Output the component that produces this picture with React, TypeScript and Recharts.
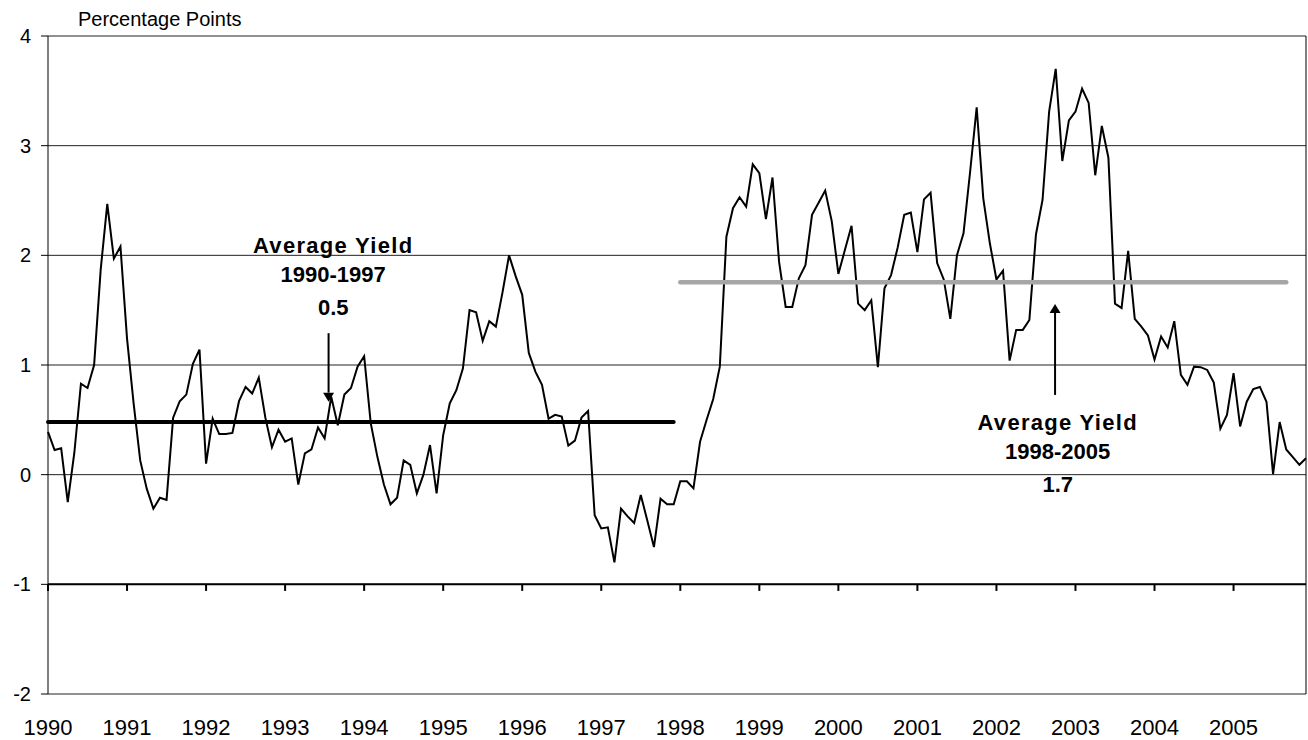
import React from 'react';
import { LineChart, Line, XAxis, YAxis, CartesianGrid, ReferenceLine, ReferenceDot } from 'recharts';

// Monthly series, Jan 1990 .. Dec 2005 (percentage points)
const yieldValues: number[] = [
  // 1990
  0.39, 0.225, 0.24, -0.25, 0.2, 0.83, 0.79, 1.0, 1.87, 2.47, 1.97, 2.08,
  // 1991
  1.24, 0.65, 0.13, -0.13, -0.31, -0.21, -0.23, 0.52, 0.67, 0.73, 1.01, 1.14,
  // 1992
  0.1, 0.51, 0.37, 0.37, 0.38, 0.67, 0.8, 0.74, 0.885, 0.52, 0.25, 0.41,
  // 1993
  0.3, 0.33, -0.09, 0.195, 0.23, 0.43, 0.33, 0.71, 0.45, 0.73, 0.79, 0.985,
  // 1994
  1.08, 0.47, 0.165, -0.09, -0.27, -0.21, 0.13, 0.09, -0.17, 0.0, 0.27, -0.17,
  // 1995
  0.36, 0.65, 0.77, 0.97, 1.5, 1.48, 1.22, 1.4, 1.35, 1.66, 2.0, 1.81,
  // 1996
  1.64, 1.11, 0.94, 0.82, 0.51, 0.545, 0.53, 0.265, 0.31, 0.52, 0.58, -0.37,
  // 1997
  -0.49, -0.48, -0.8, -0.31, -0.38, -0.44, -0.185, -0.42, -0.66, -0.22, -0.27, -0.27,
  // 1998
  -0.06, -0.06, -0.125, 0.3, 0.5, 0.69, 0.985, 2.17, 2.43, 2.53, 2.445, 2.83,
  // 1999
  2.75, 2.33, 2.71, 1.94, 1.53, 1.53, 1.79, 1.91, 2.37, 2.48, 2.59, 2.31,
  // 2000
  1.83, 2.05, 2.27, 1.56, 1.5, 1.59, 0.98, 1.7, 1.82, 2.07, 2.37, 2.39,
  // 2001
  2.03, 2.51, 2.57, 1.93, 1.78, 1.42, 2.0, 2.2, 2.76, 3.35, 2.52, 2.11,
  // 2002
  1.78, 1.86, 1.04, 1.32, 1.32, 1.41, 2.19, 2.505, 3.31, 3.7, 2.86, 3.23,
  // 2003
  3.31, 3.52, 3.39, 2.73, 3.18, 2.89, 1.56, 1.52, 2.04, 1.42, 1.35, 1.27,
  // 2004
  1.05, 1.26, 1.16, 1.4, 0.91, 0.82, 0.985, 0.98, 0.955, 0.84, 0.42, 0.545,
  // 2005
  0.925, 0.44, 0.665, 0.78, 0.8, 0.665, 0.005, 0.48, 0.23, 0.16, 0.09, 0.15,
];

const yearLabels: string[] = [
  '1990', '1991', '1992', '1993', '1994', '1995', '1996', '1997',
  '1998', '1999', '2000', '2001', '2002', '2003', '2004', '2005',
];

const yTicks: number[] = [-2, -1, 0, 1, 2, 3, 4];

// Period averages (line level) and month index spans they cover
const avgEarlyValue = 0.48;
const avgEarlySpan: number[] = [0, 95];
const avgLateValue = 1.755;
const avgLateSpan: number[] = [96, 188];

const FONT = '"Liberation Sans", Arial, Helvetica, sans-serif';

const lastIndex = yieldValues.length - 1;
const yearTickIdx = yearLabels.map((_, k) => k * 12);

const data = yieldValues.map((v, i) => ({
  i,
  v,
  a1: i >= avgEarlySpan[0] && i <= avgEarlySpan[1] ? avgEarlyValue : null,
  a2: i >= avgLateSpan[0] && i <= avgLateSpan[1] ? avgLateValue : null,
}));

const arrowShape = (dir: 'down' | 'up') => (p: any) => {
  const { x1, y1, x2, y2 } = p;
  const tipX = x2;
  const tipY = y2;
  const h = 9;
  const w = 5.5;
  const baseY = dir === 'down' ? tipY - h : tipY + h;
  return (
    <g>
      <line x1={x1} y1={y1} x2={x2} y2={baseY} stroke="#000" strokeWidth={2} />
      <polygon points={`${tipX},${tipY} ${tipX - w},${baseY} ${tipX + w},${baseY}`} fill="#000" />
    </g>
  );
};

const textShape = (txt: string, spacing: number) => (p: any) => (
  <text
    x={p.cx}
    y={p.cy}
    textAnchor="middle"
    fontFamily={FONT}
    fontWeight="bold"
    fontSize={22}
    letterSpacing={spacing}
    fill="#000"
  >
    {txt}
  </text>
);

const titleShape = (p: any) => (
  <text x={p.cx + 30} y={p.cy - 10} fontFamily={FONT} fontSize={20} fill="#000">
    Percentage Points
  </text>
);

export default function App() {
  return (
    <div style={{ position: 'absolute', left: 0, top: 0, background: '#fff' }}>
      <LineChart
        width={1308}
        height={740}
        data={data}
        margin={{ top: 36, right: 2, bottom: 0, left: 0 }}
      >
        <CartesianGrid horizontal vertical={false} stroke="#222" strokeWidth={1} />
        <XAxis
          dataKey="i"
          type="number"
          domain={[0, lastIndex]}
          ticks={yearTickIdx}
          tickFormatter={(i: number) => yearLabels[Math.round(i / 12)]}
          axisLine={false}
          tickLine={false}
          tickSize={0}
          tickMargin={25}
          height={46}
          interval={0}
          tick={{ fontFamily: FONT, fontSize: 22, fill: '#000' }}
        />
        <YAxis
          type="number"
          domain={[-2, 4]}
          ticks={yTicks}
          width={48}
          interval={0}
          tickSize={7}
          tickMargin={10}
          axisLine={{ stroke: '#000', strokeWidth: 1 }}
          tickLine={{ stroke: '#000', strokeWidth: 1 }}
          tick={{ fontFamily: FONT, fontSize: 20, fill: '#000' }}
        />
        <ReferenceLine x={lastIndex} stroke="#000" strokeWidth={1} />
        <ReferenceLine y={-1} stroke="#000" strokeWidth={2} />
        {yearTickIdx.map((t) => (
          <ReferenceLine
            key={`yt${t}`}
            segment={[{ x: t, y: -1 }, { x: t, y: -1.06 }]}
            stroke="#000"
            strokeWidth={2}
            ifOverflow="visible"
          />
        ))}
        <Line
          dataKey="v"
          stroke="#000"
          strokeWidth={2}
          dot={false}
          isAnimationActive={false}
          strokeLinejoin="miter"
        />
        <Line
          dataKey="a1"
          stroke="#000"
          strokeWidth={4}
          dot={false}
          isAnimationActive={false}
          strokeLinecap="round"
          connectNulls={false}
        />
        <Line
          dataKey="a2"
          stroke="#A6A6A6"
          strokeWidth={4.5}
          dot={false}
          isAnimationActive={false}
          strokeLinecap="round"
          connectNulls={false}
        />
        <ReferenceLine
          segment={[{ x: 42.6, y: 1.29 }, { x: 42.6, y: 0.666 }]}
          ifOverflow="visible"
          shape={arrowShape('down')}
        />
        <ReferenceLine
          segment={[{ x: 152.9, y: 0.727 }, { x: 152.9, y: 1.557 }]}
          ifOverflow="visible"
          shape={arrowShape('up')}
        />
        <ReferenceDot x={43.3} y={2.02} r={0} ifOverflow="visible" shape={textShape('Average Yield', 1.3)} />
        <ReferenceDot x={43.3} y={1.755} r={0} ifOverflow="visible" shape={textShape('1990-1997', 0)} />
        <ReferenceDot x={43.3} y={1.457} r={0} ifOverflow="visible" shape={textShape('0.5', 0)} />
        <ReferenceDot x={153.3} y={0.408} r={0} ifOverflow="visible" shape={textShape('Average Yield', 1.3)} />
        <ReferenceDot x={153.3} y={0.143} r={0} ifOverflow="visible" shape={textShape('1998-2005', 0)} />
        <ReferenceDot x={153.3} y={-0.158} r={0} ifOverflow="visible" shape={textShape('1.7', 0)} />
        <ReferenceDot x={0} y={4} r={0} ifOverflow="visible" shape={titleShape} />
      </LineChart>
    </div>
  );
}
